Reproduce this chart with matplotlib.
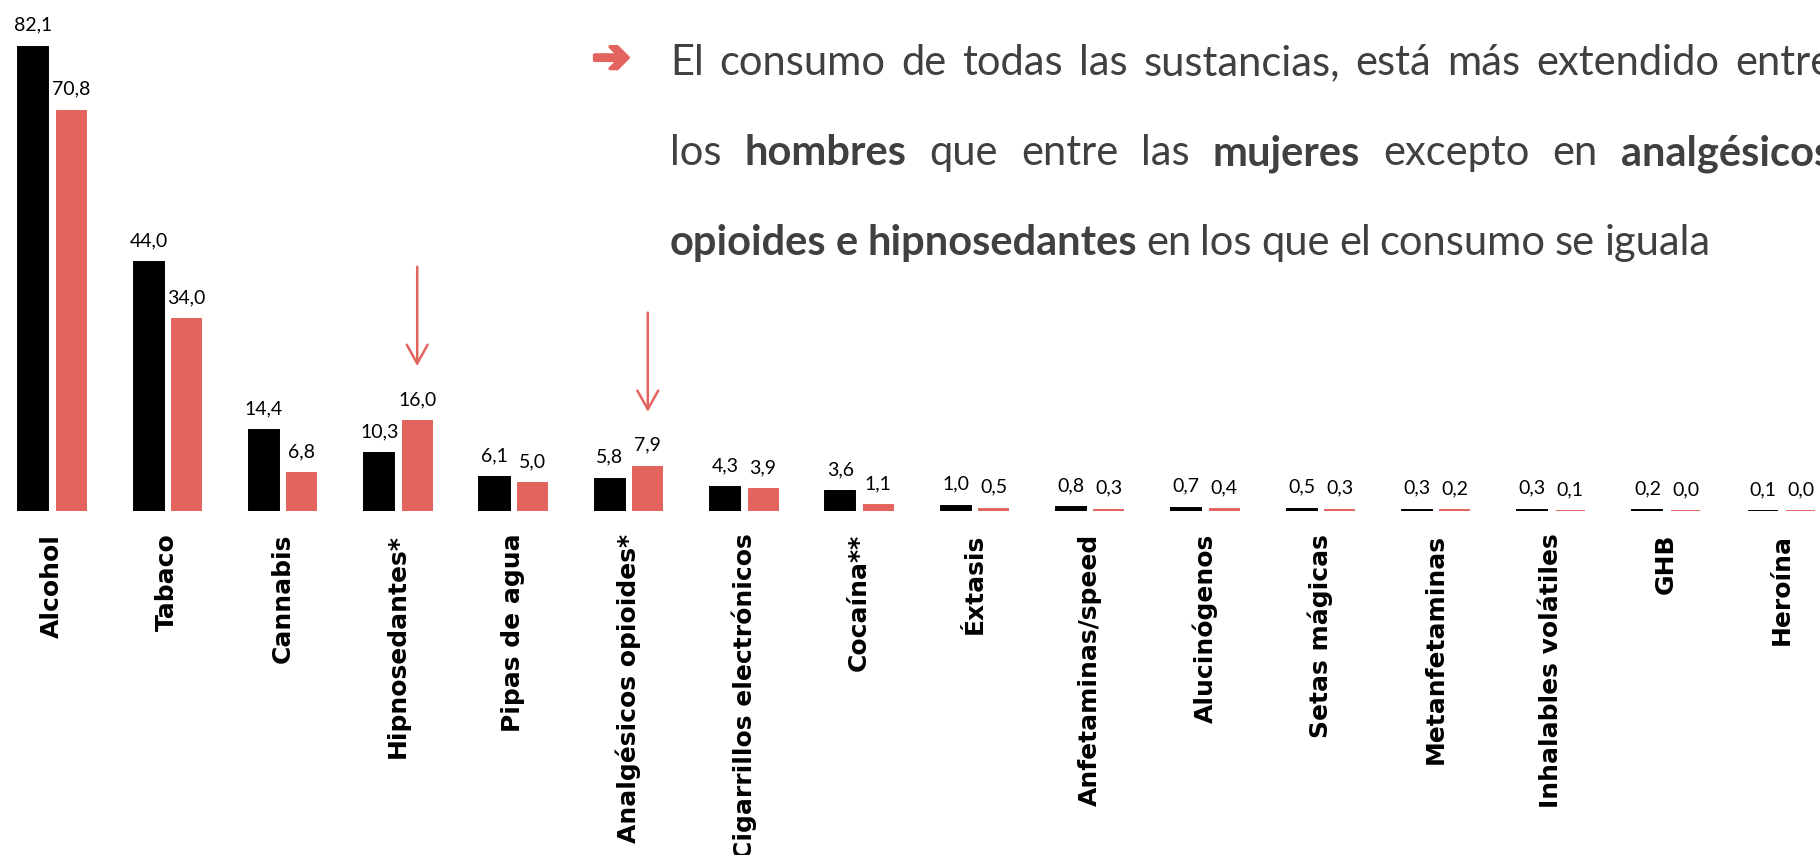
import numpy as np
import matplotlib
matplotlib.use('Agg')
import matplotlib.pyplot as plt
import matplotlib.patheffects as pe
from matplotlib.transforms import IdentityTransform

sustancias = [
    'Alcohol', 'Tabaco', 'Cannabis', 'Hipnosedantes*', 'Pipas de agua',
    'Analgésicos opioides*', 'Cigarrillos electrónicos', 'Cocaína**', 'Éxtasis',
    'Anfetaminas/speed', 'Alucinógenos', 'Setas mágicas', 'Metanfetaminas',
    'Inhalables volátiles', 'GHB', 'Heroína',
]
hombres = [82.1, 44.0, 14.4, 10.3, 6.1, 5.8, 4.3, 3.6, 1.0, 0.8, 0.7, 0.5, 0.3, 0.3, 0.2, 0.1]
mujeres = [70.8, 34.0, 6.8, 16.0, 5.0, 7.9, 3.9, 1.1, 0.5, 0.3, 0.4, 0.3, 0.2, 0.1, 0.0, 0.0]
destacadas = ['Hipnosedantes*', 'Analgésicos opioides*']

linea1 = [('El consumo de todas las sustancias, está más extendido entre', False)]
linea2 = [('los', False), ('hombres', True), ('que entre las', False), ('mujeres', True),
          ('excepto en', False), ('analgésicos', True)]
linea3 = [('opioides e hipnosedantes', True), ('en los que el consumo se iguala', False)]

rojo = '#E3645E'
gris = '#404040'

W, H = 1820, 855
fig = plt.figure(figsize=(W / 100, H / 100), dpi=100)
base = 511.5
ppu = 5.66  # px por unidad
pitch = 115.3
ax = fig.add_axes([0, (H - base) / H, 1, base / H])
ax.set_xlim(-18.3 / pitch, (W - 18.3) / pitch)
ax.set_ylim(0, base / ppu)
ax.axis('off')

x = np.arange(len(sustancias))
wb, off_r, wr = 30 / pitch, 38.5 / pitch, 29 / pitch
ax.bar(x, hombres, width=wb, align='edge', color='black', edgecolor='black', linewidth=1.4)
ax.bar(x + off_r, mujeres, width=wr, align='edge', color=rojo, edgecolor=rojo, linewidth=1.4)

fmt = lambda v: f'{v:.1f}'.replace('.', ',')
for i in x:
    ax.annotate(fmt(hombres[i]), (i + wb / 2, hombres[i]), xytext=(0, 11.5),
                textcoords='offset points', ha='center', va='baseline',
                fontsize=14, family='Lato', color='black')
    ax.annotate(fmt(mujeres[i]), (i + off_r + wr / 2, mujeres[i]), xytext=(0, 11.5),
                textcoords='offset points', ha='center', va='baseline',
                fontsize=14, family='Lato', color='black')
    ax.annotate(sustancias[i], (i + (off_r + wr) / 2, 0), xytext=(0, -16),
                textcoords='offset points', ha='center', va='top', rotation=90,
                fontsize=18, family='DejaVu Sans', weight='bold', color='black',
                annotation_clip=False)
    if sustancias[i] in destacadas:
        ax.annotate('', xy=(i + off_r + wr / 2, mujeres[i]), xytext=(0, 111),
                    textcoords='offset points',
                    arrowprops=dict(arrowstyle='->,head_length=1.35,head_width=0.75',
                                    color=rojo, lw=1.8, shrinkA=0, shrinkB=39.5))

# texto explicativo
fs = 30
renderer = fig.canvas.get_renderer()
fig.text(592, H - 72, '\u2794', transform=IdentityTransform(), fontsize=33,
         family='DejaVu Sans', weight='bold', color=rojo, va='baseline', ha='left',
         path_effects=[pe.withStroke(linewidth=2.5, foreground=rojo)])


def linea(segmentos, y, x0, x1=None):
    palabras = [(w, b) for s, b in segmentos for w in s.split()]
    textos = []
    for w, b in palabras:
        t = fig.text(0, H - y, w, transform=IdentityTransform(), fontsize=fs,
                     family='Lato', weight='bold' if b else 'normal', color=gris,
                     va='baseline', ha='left')
        textos.append(t)
    anchos = [t.get_window_extent(renderer).width for t in textos]
    if x1 is None:
        hueco = 0.22 * fs * 100 / 72
    else:
        hueco = (x1 - x0 - sum(anchos)) / (len(textos) - 1)
    xx = x0
    for t, a in zip(textos, anchos):
        t.set_x(xx)
        xx += a + hueco


linea(linea1, 75, 670, 1832)
linea(linea2, 165, 670, 1832)
linea(linea3, 255, 670)

fig.savefig('out.png', dpi=100)
